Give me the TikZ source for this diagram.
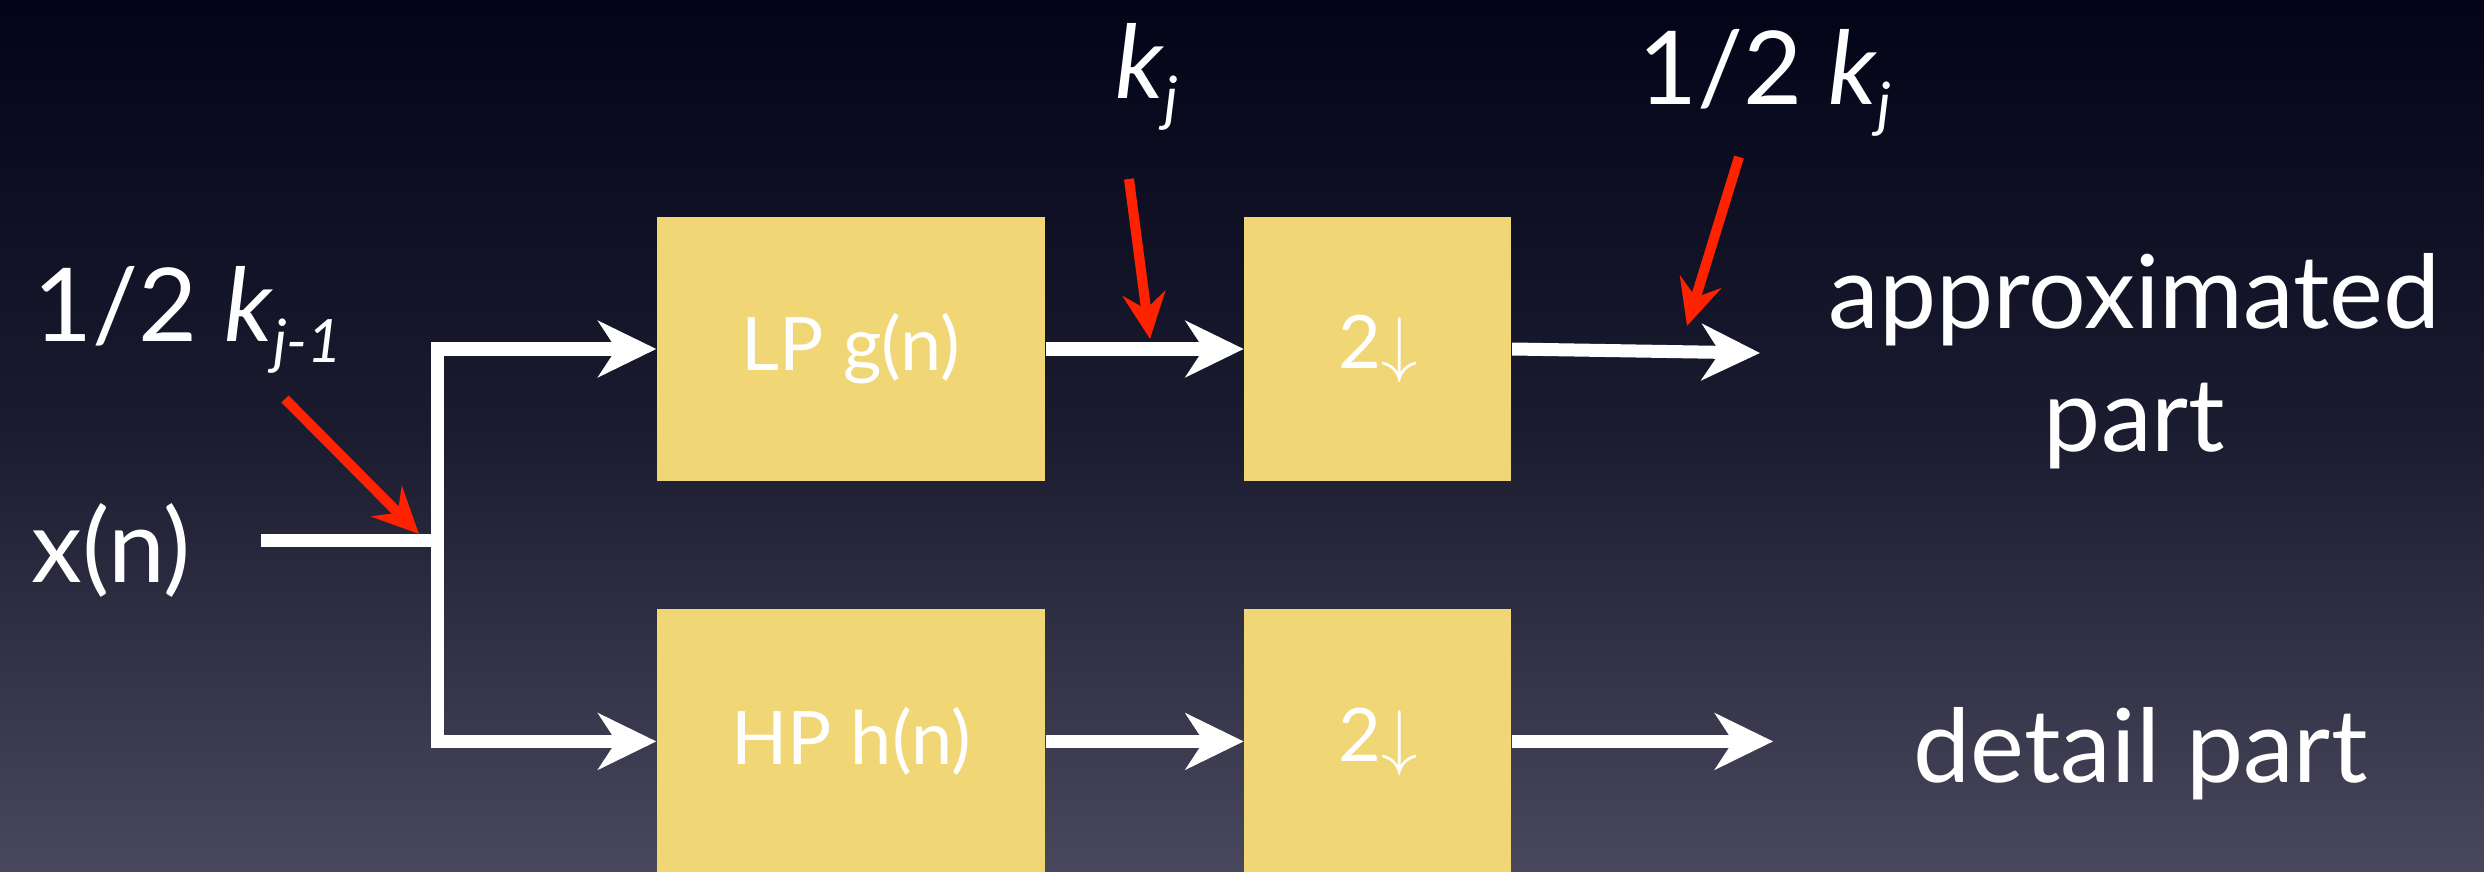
\documentclass[tikz,border=0pt]{standalone}
\usepackage{fontspec}
\setmainfont{Lato}
\usetikzlibrary{arrows.meta, positioning}

\definecolor{bgtop}{RGB}{3,4,24}
\definecolor{bgmid}{RGB}{28,28,48}
\definecolor{bgbot}{RGB}{72,71,92}
\definecolor{filtyellow}{RGB}{240,214,117}
\definecolor{markred}{RGB}{255,34,0}

% subscript in italics
\newcommand{\idx}[1]{\raisebox{-0.4ex}{\fontsize{17}{17}\selectfont\itshape #1}}

\begin{document}
\begin{tikzpicture}[
    filt/.style={rectangle, fill=filtyellow, minimum width=3.88cm, minimum height=2.64cm, inner sep=0pt, text=white, font=\fontsize{21}{25}\selectfont},
    downbox/.style={filt, minimum width=2.67cm},
    lbl/.style={text=white, font=\fontsize{29}{35}\selectfont, align=center, inner sep=0pt},
    wire/.style={draw=white, line width=0.13cm},
    flow/.style={wire, -{Stealth[length=0.58cm, width=0.56cm, inset=0.18cm]}},
    pointer/.style={draw=markred, line width=0.1cm, -{Stealth[length=0.46cm, width=0.43cm, inset=0.16cm]}}
]

% Hintergrund
\useasboundingbox (0,0) rectangle (24.84,8.71);
\clip (0,0) rectangle (24.84,8.71);
\shade[top color=bgtop, bottom color=bgbot, middle color=bgmid] (0,0) rectangle (24.84,8.71);

% Filter
\node[filt] (lp) at (8.51,5.22) {LP g(n)};
\node[filt, below=1.27cm of lp] (hp) {HP h(n)};
\node[downbox, right=1.98cm of lp] (dlp) {2$\downarrow$};
\node[downbox, right=1.98cm of hp] (dhp) {2$\downarrow$};

% Eingang
\coordinate (in) at (2.61,3.31);
\coordinate (split) at (4.37,3.31);
\node[lbl] (xn) at (1.11,3.21) {x(n)};

\draw[wire] (in) -- (split);
\draw[flow] (split) |- (lp.west);
\draw[flow] (split) |- (hp.west);
\draw[flow] (lp) -- (dlp);
\draw[flow] (hp) -- (dhp);

% Ausgaenge
\coordinate (aout) at (17.60,5.18);
\coordinate[right=2.61cm of dhp.east] (dout);
\draw[flow] (dlp.east) -- (aout);
\draw[flow] (dhp.east) -- (dout);

\node[lbl, right=0.68cm of aout, yshift=-0.08cm] (approx) {approximated\\part};
\node[lbl, right=1.40cm of dout, yshift=-0.12cm] (detail) {detail part};

% Marken
\node[lbl] (kjm) at (1.88,5.51) {1/2 \textit{k}\idx{j-1}};
\node[lbl] (kj) at (11.47,7.94) {\textit{k}\idx{j}};
\node[lbl] (hkj) at (17.65,7.88) {1/2 \textit{k}\idx{j}};

\coordinate (t1) at (2.85,4.72);
\coordinate (p1) at (4.19,3.37);
\coordinate (t2) at (11.29,6.92);
\coordinate (p2) at (11.50,5.32);
\coordinate (t3) at (17.39,7.14);
\coordinate (p3) at (16.87,5.45);
\draw[pointer] (t1) -- (p1);
\draw[pointer] (t2) -- (p2);
\draw[pointer] (t3) -- (p3);

\end{tikzpicture}
\end{document}
